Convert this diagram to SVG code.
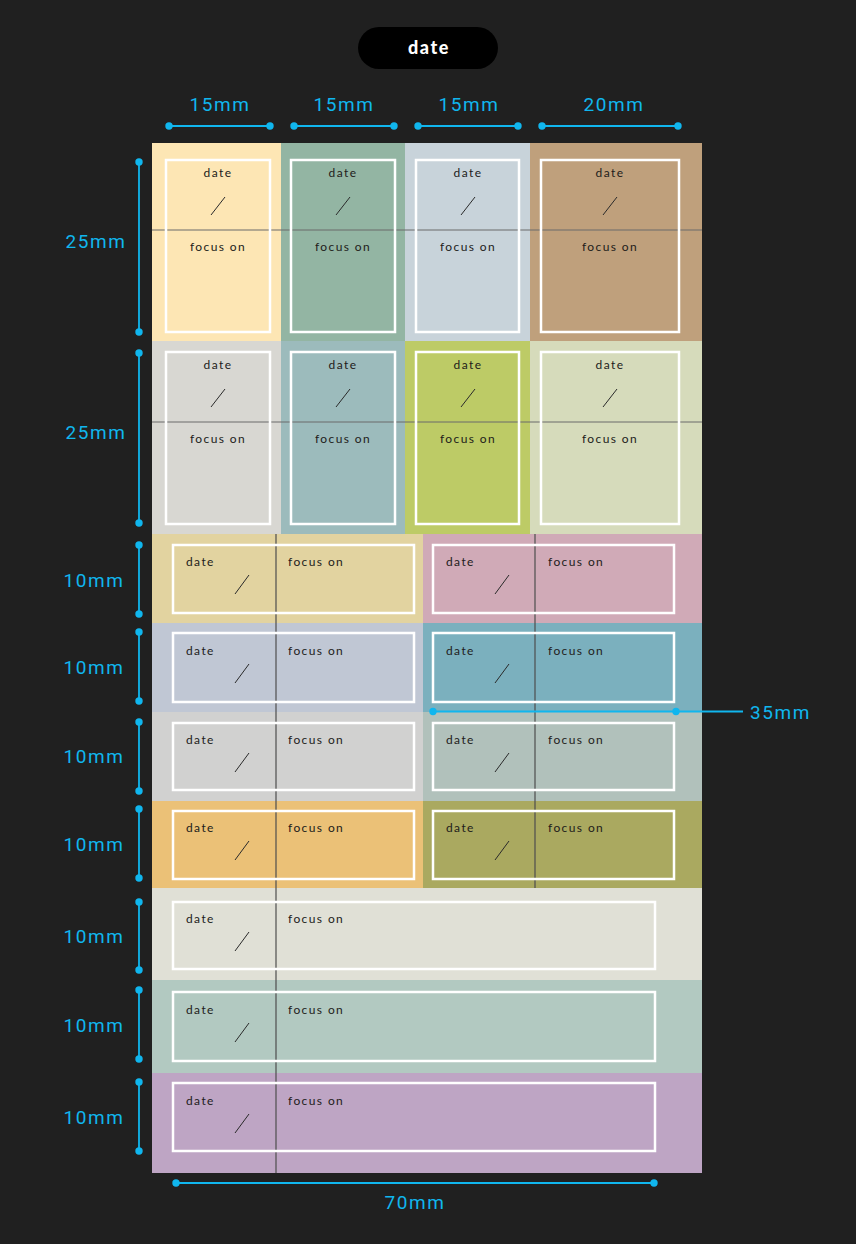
<svg xmlns="http://www.w3.org/2000/svg" width="856" height="1244" viewBox="0 0 856 1244">
<style>
.lbl{font-family:Lato,"Noto Sans",sans-serif;font-size:12px;letter-spacing:1.4px;fill:#221c1a}
.dim{font-family:Roboto,"Liberation Sans",sans-serif;font-size:19px;font-weight:400;letter-spacing:1.6px;fill:#10b6ee}
.frame{fill:none;stroke:#ffffff;stroke-width:2.5}
.slash{stroke:#2a2a2a;stroke-width:1}
.hline{stroke:#6b6b6b;stroke-width:1}
.vline{stroke:#4e4e4e;stroke-width:1.2}
.dl{stroke:#10b6ee;stroke-width:1.8}
.dot{fill:#10b6ee}
</style>
<rect x="0" y="0" width="856" height="1244" fill="#202020"/>

<g id="title">
<rect x="358" y="27" width="140" height="42" rx="21" fill="#000"/>
<text x="429" y="54" text-anchor="middle" font-family="Lato,'Noto Sans',sans-serif" font-size="18" font-weight="900" letter-spacing="1.6" fill="#fff">date</text>
</g>

<g id="sheet">
<rect x="152" y="143" width="129" height="198" fill="#fde6b4"/>
<rect x="281" y="143" width="124" height="198" fill="#93b5a3"/>
<rect x="405" y="143" width="125" height="198" fill="#c8d3da"/>
<rect x="530" y="143" width="172" height="198" fill="#bfa07c"/>
<rect x="152" y="341" width="129" height="193" fill="#d8d7d2"/>
<rect x="281" y="341" width="124" height="193" fill="#9cbbbc"/>
<rect x="405" y="341" width="125" height="193" fill="#bdcb66"/>
<rect x="530" y="341" width="172" height="193" fill="#d6dbbb"/>
<rect x="152" y="534" width="271" height="89" fill="#e2d3a0"/>
<rect x="423" y="534" width="279" height="89" fill="#d0aab7"/>
<rect x="152" y="623" width="271" height="89" fill="#c0c7d4"/>
<rect x="423" y="623" width="279" height="89" fill="#7bb0be"/>
<rect x="152" y="712" width="271" height="89" fill="#d1d1d0"/>
<rect x="423" y="712" width="279" height="89" fill="#b1c1bb"/>
<rect x="152" y="801" width="271" height="87" fill="#ebc177"/>
<rect x="423" y="801" width="279" height="87" fill="#aaa960"/>
<rect x="152" y="888" width="550" height="92" fill="#e0e0d6"/>
<rect x="152" y="980" width="550" height="93" fill="#b2c9c1"/>
<rect x="152" y="1073" width="550" height="100" fill="#bea5c4"/>
<line class="hline" x1="152" y1="230" x2="702" y2="230"/>
<line class="hline" x1="152" y1="422" x2="702" y2="422"/>
<line class="vline" x1="276" y1="534" x2="276" y2="1173"/>
<line class="vline" x1="535" y1="534" x2="535" y2="888"/>
</g>

<g id="tall-1-1"><rect class="frame" x="166" y="160" width="104" height="172"/><text class="lbl" x="218" y="177" text-anchor="middle">date</text><line class="slash" x1="211" y1="215" x2="225" y2="197"/><text class="lbl" x="218" y="251" text-anchor="middle">focus on</text></g>
<g id="tall-1-2"><rect class="frame" x="291" y="160" width="104" height="172"/><text class="lbl" x="343" y="177" text-anchor="middle">date</text><line class="slash" x1="336" y1="215" x2="350" y2="197"/><text class="lbl" x="343" y="251" text-anchor="middle">focus on</text></g>
<g id="tall-1-3"><rect class="frame" x="416" y="160" width="103" height="172"/><text class="lbl" x="468" y="177" text-anchor="middle">date</text><line class="slash" x1="461" y1="215" x2="475" y2="197"/><text class="lbl" x="468" y="251" text-anchor="middle">focus on</text></g>
<g id="tall-1-4"><rect class="frame" x="541" y="160" width="138" height="172"/><text class="lbl" x="610" y="177" text-anchor="middle">date</text><line class="slash" x1="603" y1="215" x2="617" y2="197"/><text class="lbl" x="610" y="251" text-anchor="middle">focus on</text></g>

<g id="tall-2-1"><rect class="frame" x="166" y="352" width="104" height="172"/><text class="lbl" x="218" y="369" text-anchor="middle">date</text><line class="slash" x1="211" y1="407" x2="225" y2="389"/><text class="lbl" x="218" y="443" text-anchor="middle">focus on</text></g>
<g id="tall-2-2"><rect class="frame" x="291" y="352" width="104" height="172"/><text class="lbl" x="343" y="369" text-anchor="middle">date</text><line class="slash" x1="336" y1="407" x2="350" y2="389"/><text class="lbl" x="343" y="443" text-anchor="middle">focus on</text></g>
<g id="tall-2-3"><rect class="frame" x="416" y="352" width="103" height="172"/><text class="lbl" x="468" y="369" text-anchor="middle">date</text><line class="slash" x1="461" y1="407" x2="475" y2="389"/><text class="lbl" x="468" y="443" text-anchor="middle">focus on</text></g>
<g id="tall-2-4"><rect class="frame" x="541" y="352" width="138" height="172"/><text class="lbl" x="610" y="369" text-anchor="middle">date</text><line class="slash" x1="603" y1="407" x2="617" y2="389"/><text class="lbl" x="610" y="443" text-anchor="middle">focus on</text></g>

<g id="wide-3-L"><rect class="frame" x="173" y="545" width="241" height="68"/><text class="lbl" x="186" y="566">date</text><line class="slash" x1="235" y1="594" x2="249" y2="575"/><text class="lbl" x="288" y="566">focus on</text></g>
<g id="wide-3-R"><rect class="frame" x="433" y="545" width="241" height="68"/><text class="lbl" x="446" y="566">date</text><line class="slash" x1="495" y1="594" x2="509" y2="575"/><text class="lbl" x="548" y="566">focus on</text></g>
<g id="wide-4-L"><rect class="frame" x="173" y="633" width="241" height="69"/><text class="lbl" x="186" y="655">date</text><line class="slash" x1="235" y1="683" x2="249" y2="664"/><text class="lbl" x="288" y="655">focus on</text></g>
<g id="wide-4-R"><rect class="frame" x="433" y="633" width="241" height="69"/><text class="lbl" x="446" y="655">date</text><line class="slash" x1="495" y1="683" x2="509" y2="664"/><text class="lbl" x="548" y="655">focus on</text></g>
<g id="wide-5-L"><rect class="frame" x="173" y="723" width="241" height="67"/><text class="lbl" x="186" y="744">date</text><line class="slash" x1="235" y1="772" x2="249" y2="753"/><text class="lbl" x="288" y="744">focus on</text></g>
<g id="wide-5-R"><rect class="frame" x="433" y="723" width="241" height="67"/><text class="lbl" x="446" y="744">date</text><line class="slash" x1="495" y1="772" x2="509" y2="753"/><text class="lbl" x="548" y="744">focus on</text></g>
<g id="wide-6-L"><rect class="frame" x="173" y="811" width="241" height="68"/><text class="lbl" x="186" y="832">date</text><line class="slash" x1="235" y1="860" x2="249" y2="841"/><text class="lbl" x="288" y="832">focus on</text></g>
<g id="wide-6-R"><rect class="frame" x="433" y="811" width="241" height="68"/><text class="lbl" x="446" y="832">date</text><line class="slash" x1="495" y1="860" x2="509" y2="841"/><text class="lbl" x="548" y="832">focus on</text></g>

<g id="long-7"><rect class="frame" x="173" y="902" width="482" height="67"/><text class="lbl" x="186" y="923">date</text><line class="slash" x1="235" y1="951" x2="249" y2="932"/><text class="lbl" x="288" y="923">focus on</text></g>
<g id="long-8"><rect class="frame" x="173" y="992" width="482" height="69"/><text class="lbl" x="186" y="1014">date</text><line class="slash" x1="235" y1="1042" x2="249" y2="1023"/><text class="lbl" x="288" y="1014">focus on</text></g>
<g id="long-9"><rect class="frame" x="173" y="1083" width="482" height="68"/><text class="lbl" x="186" y="1105">date</text><line class="slash" x1="235" y1="1133" x2="249" y2="1114"/><text class="lbl" x="288" y="1105">focus on</text></g>

<g id="dimensions">
<line class="dl" x1="169" y1="126" x2="270" y2="126"/><circle class="dot" cx="169" cy="126" r="3.7"/><circle class="dot" cx="270" cy="126" r="3.7"/>
<text class="dim" x="220" y="111" text-anchor="middle">15mm</text>
<line class="dl" x1="294" y1="126" x2="394" y2="126"/><circle class="dot" cx="294" cy="126" r="3.7"/><circle class="dot" cx="394" cy="126" r="3.7"/>
<text class="dim" x="344" y="111" text-anchor="middle">15mm</text>
<line class="dl" x1="418" y1="126" x2="518" y2="126"/><circle class="dot" cx="418" cy="126" r="3.7"/><circle class="dot" cx="518" cy="126" r="3.7"/>
<text class="dim" x="469" y="111" text-anchor="middle">15mm</text>
<line class="dl" x1="542" y1="126" x2="678" y2="126"/><circle class="dot" cx="542" cy="126" r="3.7"/><circle class="dot" cx="678" cy="126" r="3.7"/>
<text class="dim" x="614" y="111" text-anchor="middle">20mm</text>

<line class="dl" x1="139" y1="162" x2="139" y2="332"/><circle class="dot" cx="139" cy="162" r="3.7"/><circle class="dot" cx="139" cy="332" r="3.7"/>
<text class="dim" x="96" y="248" text-anchor="middle">25mm</text>
<line class="dl" x1="139" y1="353" x2="139" y2="523"/><circle class="dot" cx="139" cy="353" r="3.7"/><circle class="dot" cx="139" cy="523" r="3.7"/>
<text class="dim" x="96" y="439" text-anchor="middle">25mm</text>

<line class="dl" x1="139" y1="545" x2="139" y2="614"/><circle class="dot" cx="139" cy="545" r="3.7"/><circle class="dot" cx="139" cy="614" r="3.7"/>
<text class="dim" x="94" y="587" text-anchor="middle">10mm</text>
<line class="dl" x1="139" y1="632" x2="139" y2="701"/><circle class="dot" cx="139" cy="632" r="3.7"/><circle class="dot" cx="139" cy="701" r="3.7"/>
<text class="dim" x="94" y="674" text-anchor="middle">10mm</text>
<line class="dl" x1="139" y1="722" x2="139" y2="791"/><circle class="dot" cx="139" cy="722" r="3.7"/><circle class="dot" cx="139" cy="791" r="3.7"/>
<text class="dim" x="94" y="763" text-anchor="middle">10mm</text>
<line class="dl" x1="139" y1="809" x2="139" y2="878"/><circle class="dot" cx="139" cy="809" r="3.7"/><circle class="dot" cx="139" cy="878" r="3.7"/>
<text class="dim" x="94" y="851" text-anchor="middle">10mm</text>
<line class="dl" x1="139" y1="902" x2="139" y2="970"/><circle class="dot" cx="139" cy="902" r="3.7"/><circle class="dot" cx="139" cy="970" r="3.7"/>
<text class="dim" x="94" y="943" text-anchor="middle">10mm</text>
<line class="dl" x1="139" y1="990" x2="139" y2="1059"/><circle class="dot" cx="139" cy="990" r="3.7"/><circle class="dot" cx="139" cy="1059" r="3.7"/>
<text class="dim" x="94" y="1032" text-anchor="middle">10mm</text>
<line class="dl" x1="139" y1="1082" x2="139" y2="1151"/><circle class="dot" cx="139" cy="1082" r="3.7"/><circle class="dot" cx="139" cy="1151" r="3.7"/>
<text class="dim" x="94" y="1124" text-anchor="middle">10mm</text>

<line class="dl" x1="433" y1="711.5" x2="743" y2="711.5"/><circle class="dot" cx="433" cy="711.5" r="3.7"/><circle class="dot" cx="676" cy="711.5" r="3.7"/>
<text class="dim" x="750" y="719">35mm</text>

<line class="dl" x1="176" y1="1183" x2="654" y2="1183"/><circle class="dot" cx="176" cy="1183" r="3.7"/><circle class="dot" cx="654" cy="1183" r="3.7"/>
<text class="dim" x="415" y="1209" text-anchor="middle">70mm</text>
</g>
</svg>
